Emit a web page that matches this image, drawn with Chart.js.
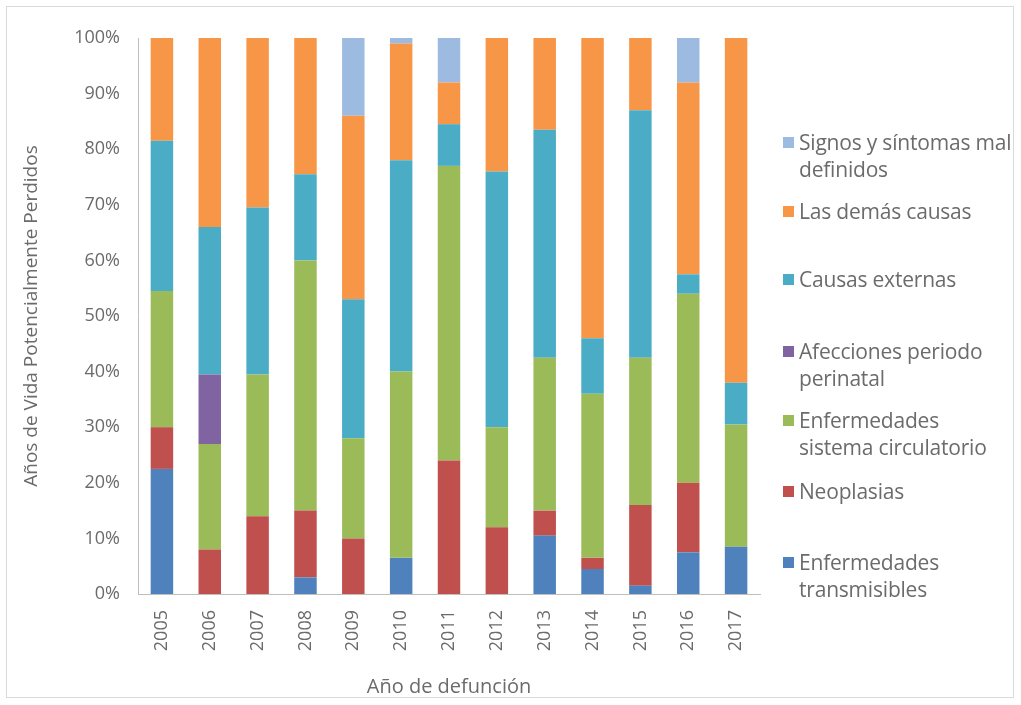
<!DOCTYPE html>
<html><head><meta charset="utf-8">
<script src="https://cdn.jsdelivr.net/npm/chart.js@4/dist/chart.umd.min.js"></script>
<style>
html,body{margin:0;padding:0;background:#fff;}
#wrap{position:relative;width:1021px;height:705px;}
#frame{position:absolute;left:6px;top:6px;width:1008px;height:692px;border:1px solid #d9d9d9;box-sizing:border-box;pointer-events:none;}
#legend{position:absolute;left:783px;top:0;width:238px;font-family:"Open Sans",sans-serif;font-size:21px;color:#6b6b6b;}
.li{position:absolute;left:0;line-height:27px;}
.sw{position:absolute;left:0;top:8px;width:11px;height:11px;}
.tx{padding-left:16px;white-space:nowrap;letter-spacing:-0.2px;}
</style></head>
<body><div id="wrap"><canvas id="c" width="1021" height="705"></canvas><div id="frame"></div><div id="legend"></div></div>
<script>
const years = ["2005","2006","2007","2008","2009","2010","2011","2012","2013","2014","2015","2016","2017"];
const transmisibles = [22.5,0,0,3,0,6.5,0,0,10.5,4.5,1.5,7.5,8.5];
const neoplasias    = [7.5,8,14,12,10,0,24,12,4.5,2,14.5,12.5,0];
const circulatorio  = [24.5,19,25.5,45,18,33.5,53,18,27.5,29.5,26.5,34,22];
const perinatal     = [0,12.5,0,0,0,0,0,0,0,0,0,0,0];
const externas      = [27,26.5,30,15.5,25,38,7.5,46,41,10,44.5,3.5,7.5];
const demas         = [18.5,34,30.5,24.5,33,21,7.5,24,16.5,54,13,34.5,62];
const signos        = [0,0,0,0,14,1,8,0,0,0,0,8,0];
const yTicks = ["0%","10%","20%","30%","40%","50%","60%","70%","80%","90%","100%"];

const series = [
  {label:"Enfermedades transmisibles", lines:["Enfermedades","transmisibles"], data:transmisibles, color:"#4F81BD"},
  {label:"Neoplasias", lines:["Neoplasias"], data:neoplasias, color:"#C0504D"},
  {label:"Enfermedades sistema circulatorio", lines:["Enfermedades","sistema circulatorio"], data:circulatorio, color:"#9BBB59"},
  {label:"Afecciones periodo perinatal", lines:["Afecciones periodo","perinatal"], data:perinatal, color:"#8064A2"},
  {label:"Causas externas", lines:["Causas externas"], data:externas, color:"#4BACC6"},
  {label:"Las demás causas", lines:["Las demás causas"], data:demas, color:"#F79646"},
  {label:"Signos y síntomas mal definidos", lines:["Signos y síntomas mal","definidos"], data:signos, color:"#9DBBE0"}
];

const font = '"Open Sans", sans-serif';
const txt = '#6b6b6b';
new Chart(document.getElementById('c'), {
  type:'bar',
  data:{labels:years, datasets:series.map(s=>({label:s.label,data:s.data,backgroundColor:s.color,borderWidth:0,barPercentage:0.47,categoryPercentage:1}))},
  options:{
    responsive:false, animation:false,
    layout:{padding:{left:20,right:261,top:38,bottom:6}},
    plugins:{legend:{display:false},tooltip:{enabled:false}},
    scales:{
      x:{stacked:true,
        grid:{display:false,drawOnChartArea:false,drawTicks:true,tickLength:5,color:'#bfbfbf'},
        border:{color:'#bfbfbf'},
        ticks:{color:txt,font:{family:font,size:18},minRotation:90,maxRotation:90,padding:11},
        title:{display:true,text:'Año de defunción',color:txt,font:{family:font,size:20},padding:{top:6,bottom:0}},
        afterFit:a=>{a.height=105;}
      },
      y:{stacked:true,min:0,max:100,
        grid:{display:false,drawOnChartArea:false,drawTicks:true,tickLength:8,color:'#bfbfbf'},
        border:{color:'#bfbfbf'},
        ticks:{stepSize:10,color:txt,font:{family:font,size:18},padding:10,callback:(v)=>yTicks[Math.round(v/10)]},
        title:{display:true,text:'Años de Vida Potencialmente Perdidos',color:txt,font:{family:font,size:19},padding:{top:0,bottom:10}},
        afterFit:a=>{a.width=118;}
      }
    }
  }
});

const legendTops = [129,198,266,338,407,478,549];
const lg = document.getElementById('legend');
series.slice().reverse().forEach((s,i)=>{
  const d=document.createElement('div'); d.className='li'; d.style.top=legendTops[i]+'px';
  d.innerHTML='<span class="sw" style="background:'+s.color+'"></span><div class="tx">'+s.lines.join('<br>')+'</div>';
  lg.appendChild(d);
});
</script></body></html>
